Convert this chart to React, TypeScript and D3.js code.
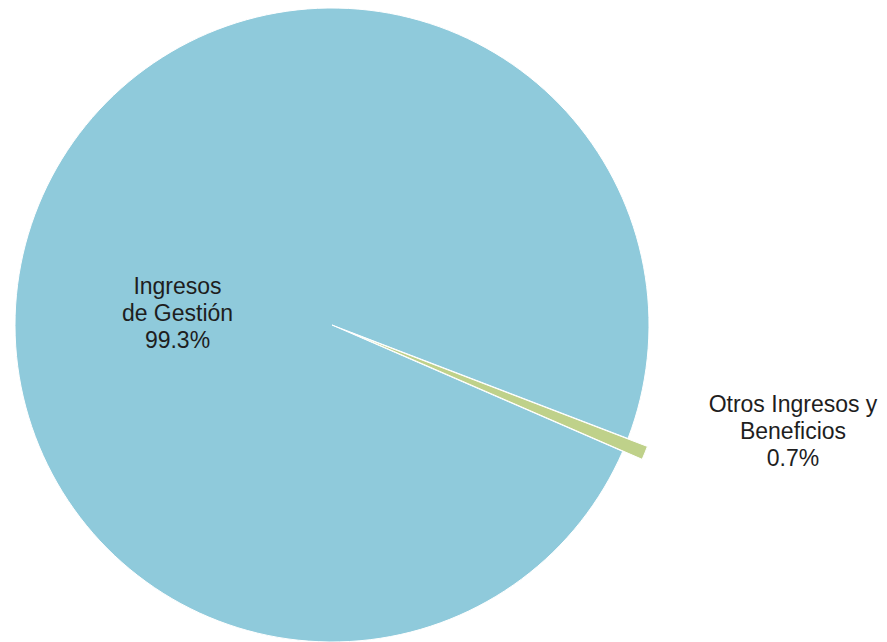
import React from "react";
import * as d3 from "d3";

const categories: string[] = ["Ingresos de Gestión", "Otros Ingresos y Beneficios"];
const values: number[] = [99.3, 0.7];
const labelLines: string[][] = [
  ["Ingresos", "de Gestión", "99.3%"],
  ["Otros Ingresos y", "Beneficios", "0.7%"],
];
const colors: string[] = ["#8fcadb", "#bfd18a"];

const W = 887;
const H = 642;
const cx = 332;
const cy = 325;
const R = 317;
const startDeg = 113.5;
const explode = [0, 21];
const labelPos: [number, number][] = [
  [177.5, 294],
  [793, 412],
];

export default function App() {
  const pie = d3
    .pie<number>()
    .sort(null)
    .value((d) => d)
    .startAngle((startDeg * Math.PI) / 180)
    .endAngle((startDeg * Math.PI) / 180 + 2 * Math.PI);
  const arcs = pie(values);
  const arc = d3.arc<d3.PieArcDatum<number>>().innerRadius(0).outerRadius(R);

  return (
    <svg
      width={W}
      height={H}
      style={{ position: "absolute", left: 0, top: 0, background: "#fff" }}
    >
      <g transform={`translate(${cx},${cy})`}>
        {arcs.map((a, i) => {
          const mid = (a.startAngle + a.endAngle) / 2;
          const dx = Math.sin(mid) * explode[i];
          const dy = -Math.cos(mid) * explode[i];
          return (
            <path
              key={categories[i]}
              d={arc(a) || ""}
              transform={`translate(${dx},${dy})`}
              fill={colors[i]}
              stroke="#fff"
              strokeWidth={1}
            />
          );
        })}
      </g>
      {labelLines.map((lines, i) => (
        <text
          key={categories[i]}
          x={labelPos[i][0]}
          y={labelPos[i][1]}
          textAnchor="middle"
          fontFamily="Liberation Sans, Arial, sans-serif"
          fontSize={23}
          fill="#1e1e1e"
        >
          {lines.map((l, j) => (
            <tspan key={j} x={labelPos[i][0]} dy={j === 0 ? 0 : 26.8}>
              {l}
            </tspan>
          ))}
        </text>
      ))}
    </svg>
  );
}
